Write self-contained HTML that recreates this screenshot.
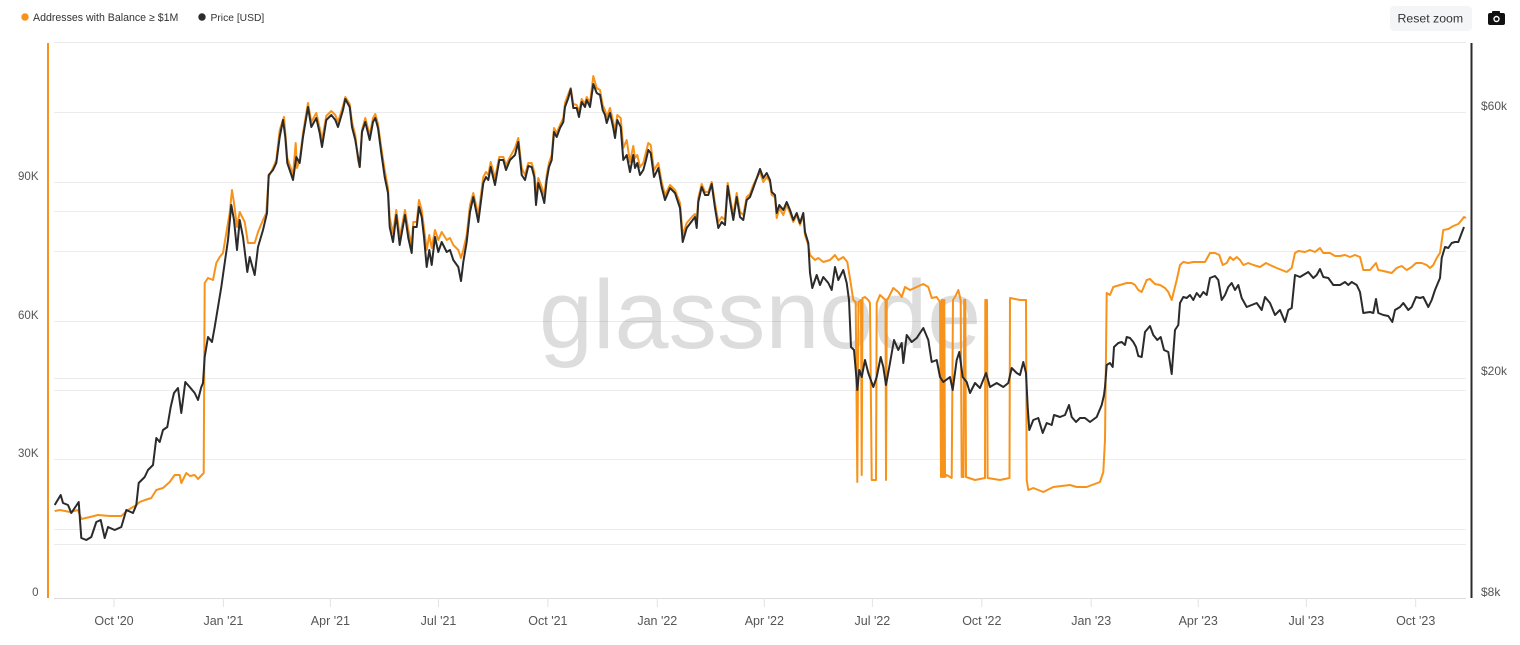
<!DOCTYPE html>
<html><head><meta charset="utf-8"><style>
html,body{margin:0;padding:0;background:#fff;}
svg{display:block;font-family:"Liberation Sans",sans-serif;}
</style></head><body>
<svg width="1520" height="645" viewBox="0 0 1520 645" xmlns="http://www.w3.org/2000/svg">
<rect width="1520" height="645" fill="#fff"/>
<!-- gridlines -->
<g stroke="#ececec" stroke-width="1">
<line x1="54" y1="42.5" x2="1466" y2="42.5"/>
<line x1="54" y1="112.5" x2="1466" y2="112.5"/>
<line x1="54" y1="182.5" x2="1466" y2="182.5"/>
<line x1="54" y1="211.5" x2="1466" y2="211.5"/>
<line x1="54" y1="251.5" x2="1466" y2="251.5"/>
<line x1="54" y1="321.5" x2="1466" y2="321.5"/>
<line x1="54" y1="378.5" x2="1466" y2="378.5"/>
<line x1="54" y1="390.5" x2="1466" y2="390.5"/>
<line x1="54" y1="459.5" x2="1466" y2="459.5"/>
<line x1="54" y1="529.5" x2="1466" y2="529.5"/>
<line x1="54" y1="544.5" x2="1466" y2="544.5"/>
</g>
<line x1="54" y1="598.5" x2="1466" y2="598.5" stroke="#dcdcdc" stroke-width="1"/>
<g stroke="#e3e3e3" stroke-width="1">
<line x1="114" y1="598" x2="114" y2="607"/>
<line x1="223.4" y1="598" x2="223.4" y2="607"/>
<line x1="330.4" y1="598" x2="330.4" y2="607"/>
<line x1="438.5" y1="598" x2="438.5" y2="607"/>
<line x1="547.9" y1="598" x2="547.9" y2="607"/>
<line x1="657.3" y1="598" x2="657.3" y2="607"/>
<line x1="764.3" y1="598" x2="764.3" y2="607"/>
<line x1="872.4" y1="598" x2="872.4" y2="607"/>
<line x1="981.8" y1="598" x2="981.8" y2="607"/>
<line x1="1091.2" y1="598" x2="1091.2" y2="607"/>
<line x1="1198.2" y1="598" x2="1198.2" y2="607"/>
<line x1="1306.4" y1="598" x2="1306.4" y2="607"/>
<line x1="1415.7" y1="598" x2="1415.7" y2="607"/>
</g>
<!-- watermark -->
<text x="539" y="348" font-size="97" fill="#000" fill-opacity="0.135">glassnode</text>
<!-- axis lines -->
<line x1="48" y1="43" x2="48" y2="598" stroke="#f7931a" stroke-width="2"/>
<line x1="1471.5" y1="43" x2="1471.5" y2="598" stroke="#2b2b2b" stroke-width="2"/>
<!-- orange series -->
<polyline fill="none" stroke="#f7931a" stroke-width="2" stroke-linejoin="round" points="54.7,511 60,510 70,512 78,510 81.3,519 90,517 98,515 110,516 121.3,516 128,510 136.3,505 139.7,502 145,500 151.3,498 156.3,490 163,488 169.7,482 174.7,475 179.7,475 181.3,483 186.3,473 190,476 194.7,475 198,479 203.7,473 204.7,283 208,278 213,280 216.3,263 219.7,257 223,253 226.3,233 229.7,213 232,190 234,203 237,227 239.7,212 244.7,222 248,243 254.7,243 258,232 263,220 266.3,213 268.7,177 273,168 276.3,160 279.7,130 284,117 285.3,133 287.3,158 290.7,168 293,175 295.7,143 297,168 299.7,160 303,133 308,103 311.3,122 316.3,113 319.7,128 322,140 326.3,116 331.3,111 335.3,115 338,122 343,106 345.3,97 349.7,104 352,122 355.3,135 358,160 359.7,167 362,130 365.3,118 369.7,135 373,118 375.3,114 378,124 381.3,148 384.7,170 388,188 389.7,218 393,233 396.3,210 399.7,236 400,236 405,210 408.3,230 411.7,245 413.3,222 416.7,222 419,200 421.7,210 424,228 426.7,250 429.3,235 431.7,248 435,230 438.3,240 441.7,232 446.7,240 450,238 453.3,245 458.3,250 461,258 463.3,250 466.7,235 470,205 473.3,193 478.3,215 483.3,177 486,172 488.3,175 490.7,162 495,178 499.3,157 503.3,157 506,165 510,157 515,148 518.3,138 521.7,168 525,175 528.3,163 531.7,163 534.3,172 536,195 538.3,178 541.7,187 544.3,195 546.7,175 549,163 551.7,155 554,128 556.7,133 560,125 563.3,118 565,103 568.3,94 570.7,88 573.3,104 576.7,105 579,112 581.7,99 585,104 586.7,97 590,103 593.3,76 596.7,88 600,90 602.7,105 605,110 606.7,117 610,108 613.3,122 615,131 617.3,115 620.7,118 623.3,148 626.7,140 630,162 633.3,146 635,158 637.3,155 640,167 643.3,163 646,152 648.3,143 650.7,145 654,170 658.3,163 661.7,182 665,195 670,185 675,190 680,203 682.7,235 686.7,223 692.7,216 695,214 696.7,222 698.3,198 701.7,184 705,192 708.3,192 711.7,182 715,203 718.3,222 721.7,217 725,220 727.7,183 731,203 733.3,215 736.7,193 740,212 743.3,215 746.7,197 750,194 753.3,185 760,172 763.3,182 766.7,177 770,182 771.7,195 775,197 776.7,218 779.3,208 783.3,215 786.7,205 790,213 793.3,222 796.7,215 800,225 803.3,215 805,235 808.3,245 810,255 815,260 818.3,258 823.3,262 830,260 835,255 838.3,260 843.3,257 847.3,262 850.7,283 853.3,300 855.7,302 857.3,482 858.5,302 861,300 861.7,475 862.5,298 865,297 868.3,300 870,303 871.7,480 876,480 876.7,303 880,295 883.3,298 885.5,300 886,480 886.8,300 888.3,298 893.3,288 898.3,292 901.7,297 905,287 910,290 916.7,287 923.3,284 928.3,287 931.7,298 936.7,297 940,302 941,477 941.7,300 942.3,477 943,300 943.6,477 944.3,300 945,477 946.7,475 951.7,478 953,300 955,297 958.3,290 960.7,300 961.7,477 963.5,477 964.2,300 965.3,300 966,477 975,480 985,478 985.3,300 987,300 987.6,478 1000,480 1009.5,478 1010,298 1020,300 1026,300 1026.7,480 1028.3,490 1033.3,488 1043.3,492 1053.3,487 1070,485 1076.7,487 1086.7,487 1100,482 1103.3,472 1105,440 1106.7,293 1110,295 1113.3,287 1120,285 1126.7,283 1131.7,283 1135,285 1138.3,290 1141.7,292 1146.7,280 1150,279 1155,284 1160,285 1165,288 1168.3,292 1171.7,300 1176.7,280 1180,265 1183.3,262 1188.3,263 1193.3,262 1200,262 1205,262 1210,253 1215,253 1219.3,255 1222.7,265 1226.7,263 1230,257 1233.3,260 1236.7,257 1240,260 1243.3,265 1248.3,263 1253.3,265 1260,267 1266,263 1270,265 1276.7,268 1281.7,270 1286.7,272 1291.7,268 1295,253 1298.3,251 1305,252 1310,250 1315,252 1320,248 1323.3,253 1330,253 1335,256 1340,256 1345,255 1350,257 1355,255 1360,257 1363.3,270 1370,270 1376,263 1378.3,270 1383.3,271 1391.7,273 1396.7,268 1401.7,266 1406.7,270 1411.7,267 1416,263 1421.7,263 1426.7,265 1430,268 1433.3,265 1436.7,258 1440,253 1443.3,230 1448.3,229 1453.3,226 1458.3,224 1461.7,220 1464,217 1466,218"/>
<!-- price series -->
<polyline fill="none" stroke="#2b2b2b" stroke-width="2" stroke-linejoin="round" points="54.7,505 60.7,495 63,503 68,505 71.3,513 74.7,508 78.7,502 81.3,538 86.3,540 91.3,537 96.3,522 100.7,520 104.7,538 108,527 114.7,530 121.3,527 126.3,510 133,513 136.3,505 138.7,483 144.7,477 148,470 153,465 156.3,438 159.7,442 163,430 167.3,427 170.7,407 174,393 178,388 181.3,413 185.3,382 189.7,387 194.7,393 198,400 201.3,387 203,383 204.7,357 208,337 212,342 214.7,327 218,307 221.3,287 224.7,263 228,240 231.3,205 234,220 237,250 239.7,220 243,237 247.3,272 249.7,257 254.7,275 258,247 263,230 267,213 268.7,175 273,170 276.3,163 279.7,137 283,120 285.3,137 287.3,163 290.7,173 293,180 296.3,157 299.7,163 303,137 308,107 311.3,127 316.3,118 319.7,133 322,147 326.3,120 331.3,115 335.3,120 338,127 343,110 345.3,99 349.7,107 352,127 355.3,140 359.7,167 362,132 365.3,122 369.7,140 373,122 375.3,118 378,128 381.3,153 384.7,177 388,193 389.7,227 393,242 396.3,215 399.7,245 400,243 405,215 408.3,238 411.7,253 413.3,227 416.7,227 419,207 421.7,217 424,237 426.7,267 429.3,250 431.7,265 435,237 438.3,252 441.7,242 446.7,252 450,250 453.3,260 458.3,267 461,281 463.3,262 466.7,242 470,212 473.3,197 478.3,222 483.3,183 486,177 488.3,180 490.7,167 495,185 499.3,160 503.3,160 506,170 510,160 515,155 518.3,142 521.7,175 525,180 528.3,166 531.7,167 534.3,177 536,205 538.3,183 541.7,193 544.3,203 546.7,180 549,167 551.7,160 554,132 556.7,137 560,128 563.3,122 565,107 568.3,98 570.7,89 573.3,108 576.7,108 579,117 581.7,102 585,107 586.7,100 590,107 593.3,84 596.7,93 600,95 602.7,110 605,115 606.7,123 610,113 613.3,128 615,138 617.3,120 620.7,127 623.3,160 626.7,155 630,172 633.3,155 635,168 637.3,163 640,175 643.3,170 646,160 648.3,150 650.7,153 654,177 658.3,168 661.7,187 665,200 670,188 675,193 680,208 682.7,242 686.7,228 692.7,220 695,217 696.7,228 698.3,202 701.7,187 705,195 708.3,195 711.7,184 715,208 718.3,228 721.7,222 725,225 727.7,186 731,207 733.3,220 736.7,197 740,217 743.3,220 746.7,200 750,197 753.3,188 760,169 763.3,178 766.7,173 770,180 771.7,192 775,195 776.7,213 779.3,205 783.3,210 786.7,202 790,210 793.3,220 796.7,213 800,223 803.3,213 805,232 808.3,243 810,273 812.3,288 816.7,275 820,285 823.3,277 828.3,283 831.7,290 835,267 838.3,280 843.3,270 846.7,283 849,300 851,347 854,350 856,373 857.3,390 859.3,370 861.7,377 865,360 868.3,373 873.3,387 876.7,377 880.7,357 883.3,367 886,385 890,363 894,340 898.3,350 901.7,343 903.3,363 906.7,335 911.7,342 916.7,338 923.3,328 928.3,340 931.7,362 936.7,360 940,377 943.3,382 950,377 952.7,390 956.7,360 959.3,352 962.7,377 966.7,382 970,393 975,383 980,388 986,373 990,387 996.7,383 1003.3,387 1008.3,383 1011.7,368 1016.7,373 1020,375 1023.3,362 1026,373 1027.7,407 1029.3,430 1033.3,420 1038.3,418 1042.7,433 1046.7,423 1051.7,425 1054,415 1060,417 1065,415 1069,405 1071.7,417 1076,422 1080,418 1085,418 1090,422 1096.7,417 1101.7,405 1104,395 1105,387 1106.7,365 1110,363 1112.7,367 1114,347 1118.3,343 1121.7,342 1125,345 1126.7,337 1130,338 1133.3,342 1136,347 1138.3,356 1141.7,357 1145,332 1150,326 1153.3,335 1157.3,340 1160.7,337 1164,350 1168.3,352 1171.7,374 1175,330 1178.3,325 1180,303 1183.3,297 1186.7,298 1190,295 1193.3,300 1196.7,293 1200,297 1203.3,292 1206.7,295 1210,278 1215,276 1218.3,280 1221.7,300 1225,295 1228.3,287 1231.7,283 1235,290 1238.3,285 1241.7,298 1246.7,307 1251.7,305 1256.7,303 1261.7,310 1265,297 1270,303 1275,315 1280,310 1285,322 1288.3,310 1291.7,308 1295,275 1300,277 1303.3,275 1308.3,272 1313.3,278 1316.7,275 1320,269 1323.3,277 1328.3,278 1333.3,285 1340,285 1345,282 1348.3,285 1351.7,282 1356.7,285 1360,292 1363.3,313 1370,312 1373.3,313 1376,299 1378.3,313 1383.3,315 1388.3,316 1392.3,322 1395,310 1400,307 1403.3,303 1408.3,310 1411.7,307 1416,297 1420,298 1423.3,297 1428.3,307 1431.7,300 1435,290 1440,278 1441.7,258 1445,247 1448.3,248 1451.7,243 1455,242 1458.3,242 1461.7,233 1464,227"/>
<!-- left axis labels -->
<g font-size="11.5" fill="#555" text-anchor="end">
<text x="38.5" y="180">90K</text>
<text x="38.5" y="319">60K</text>
<text x="38.5" y="457">30K</text>
<text x="38.5" y="596">0</text>
</g>
<!-- right axis labels -->
<g font-size="12" fill="#555">
<text x="1481" y="110">$60k</text>
<text x="1481" y="375">$20k</text>
<text x="1481" y="596">$8k</text>
</g>
<!-- x labels -->
<g font-size="12.5" fill="#555" text-anchor="middle">
<text x="114" y="625">Oct '20</text>
<text x="223.4" y="625">Jan '21</text>
<text x="330.4" y="625">Apr '21</text>
<text x="438.5" y="625">Jul '21</text>
<text x="547.9" y="625">Oct '21</text>
<text x="657.3" y="625">Jan '22</text>
<text x="764.3" y="625">Apr '22</text>
<text x="872.4" y="625">Jul '22</text>
<text x="981.8" y="625">Oct '22</text>
<text x="1091.2" y="625">Jan '23</text>
<text x="1198.2" y="625">Apr '23</text>
<text x="1306.4" y="625">Jul '23</text>
<text x="1415.7" y="625">Oct '23</text>
</g>
<!-- legend -->
<circle cx="25" cy="17" r="3.7" fill="#f7931a"/>
<text x="33" y="21" font-size="10.6" fill="#333">Addresses with Balance ≥ $1M</text>
<circle cx="202" cy="17" r="3.7" fill="#2b2b2b"/>
<text x="210.5" y="21" font-size="10.3" fill="#333">Price [USD]</text>
<!-- reset zoom -->
<rect x="1390" y="6" width="82" height="25" rx="4" fill="#f4f5f7"/>
<text x="1397.5" y="22.5" font-size="12.3" fill="#333">Reset zoom</text>
<!-- camera icon -->
<rect x="1488" y="13" width="17" height="12" rx="2" fill="#111"/>
<rect x="1492" y="11" width="8" height="4" rx="1" fill="#111"/>
<circle cx="1496.5" cy="19" r="3.2" fill="#fff"/>
<circle cx="1496.5" cy="19" r="1.8" fill="#111"/>
</svg>
</body></html>
